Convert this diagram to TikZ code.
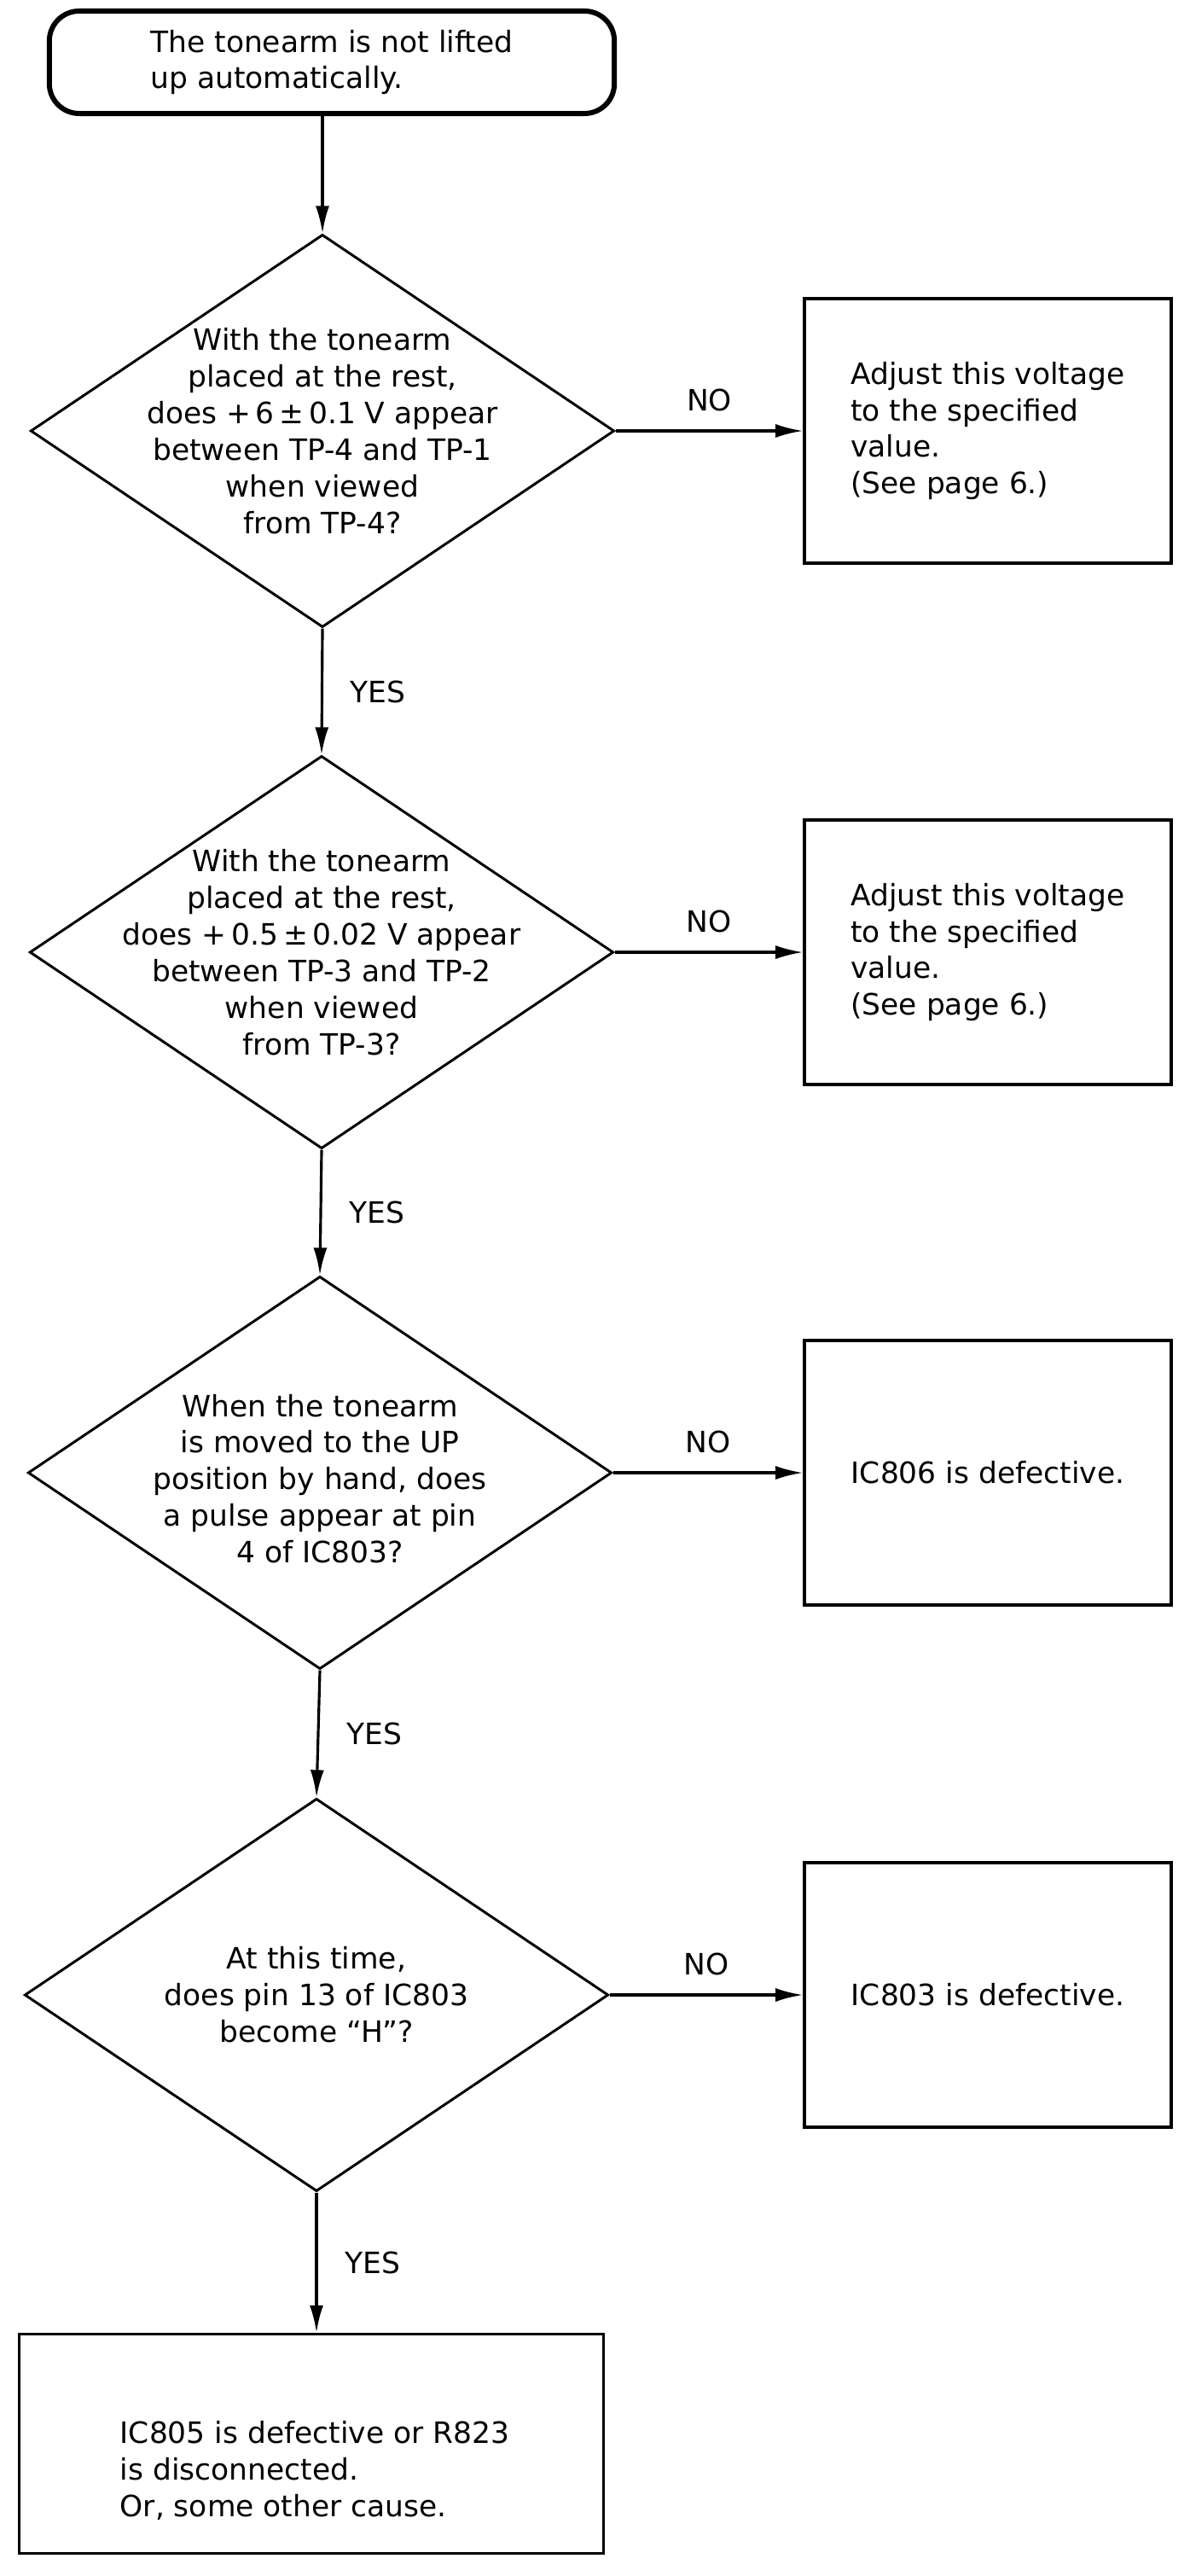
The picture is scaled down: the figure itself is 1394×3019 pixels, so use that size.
\documentclass[tikz,border=0pt]{standalone}
\usepackage{fontspec}
\setmainfont{DejaVu Sans}
\usetikzlibrary{shapes.geometric,arrows.meta}

\begin{document}
\begin{tikzpicture}[x=0.01cm,y=-0.01cm,font=\fontsize{9.8pt}{12.2pt}\selectfont]
  \tikzset{ term/.style={rectangle,rounded corners=0.35cm,draw,line width=1.7pt,minimum width=6.62cm,minimum height=1.2cm,align=left,inner sep=0pt},
    dec/.style={diamond,draw,line width=0.85pt,inner sep=0pt,minimum width=6.84cm,minimum height=4.6cm},
    dtext/.style={align=center,inner sep=0pt},
    act/.style={rectangle,draw,line width=0.95pt,minimum width=4.3cm,minimum height=3.1cm,align=left,inner sep=0pt},
    arr/.style={-{Latex[length=3.2mm,width=1.6mm]},line width=0.9pt},
  }
  \useasboundingbox (0,0) rectangle (1394,3019);

  \node[term] (s) at (389,73) {The tonearm is not lifted\\up automatically.};

  \node[dec] (q1) at (378,505) {};
  \node[dtext] (q1t) at (q1) {With the tonearm\\placed at the rest,\\does +\,6\,±\,0.1 V appear\\between TP-4 and TP-1\\when viewed\\from TP-4?};
  \node[act] (a1) at (1158,505) {Adjust this voltage\\to the specified\\value.\\(See page 6.)};

  \node[dec] (q2) at (377,1116) {};
  \node[dtext] (q2t) at (q2) {With the tonearm\\placed at the rest,\\does +\,0.5\,±\,0.02 V appear\\between TP-3 and TP-2\\when viewed\\from TP-3?};
  \node[act] (a2) at (1158,1116) {Adjust this voltage\\to the specified\\value.\\(See page 6.)};

  \node[dec] (q3) at (375,1726) {};
  \node[dtext] (q3t) at (375,1733) {When the tonearm\\is moved to the UP\\position by hand, does\\a pulse appear at pin\\4 of IC803?};
  \node[act] (a3) at (1158,1726) {IC806 is defective.};

  \node[dec] (q4) at (371,2338) {};
  \node[dtext] (q4t) at (q4) {At this time,\\does pin 13 of IC803\\become ``H''?};
  \node[act] (a4) at (1158,2338) {IC803 is defective.};

  \node[act,minimum width=6.85cm,minimum height=2.57cm] (res) at (365,2864) {};
  \node[align=left,inner sep=0pt] (rest) at (369,2895) {IC805 is defective or R823\\is disconnected.\\Or, some other cause.};

  \draw[arr] (s.south -| q1.north) -- (q1.north);
  \draw[arr] (q1) -- (a1) node [midway, above=1mm] {NO};
  \draw[arr] (q1.south) -- (q2.north) node [midway, right=2mm] {YES};
  \draw[arr] (q2) -- (a2) node [midway, above=1mm] {NO};
  \draw[arr] (q2.south) -- (q3.north) node [midway, right=2mm] {YES};
  \draw[arr] (q3) -- (a3) node [midway, above=1mm] {NO};
  \draw[arr] (q3.south) -- (q4.north) node [midway, right=2mm] {YES};
  \draw[arr] (q4) -- (a4) node [midway, above=1mm] {NO};
  \draw[arr] (q4.south) -- (q4.south |- res.north) node [midway, right=2mm] {YES};
\end{tikzpicture}
\end{document}
